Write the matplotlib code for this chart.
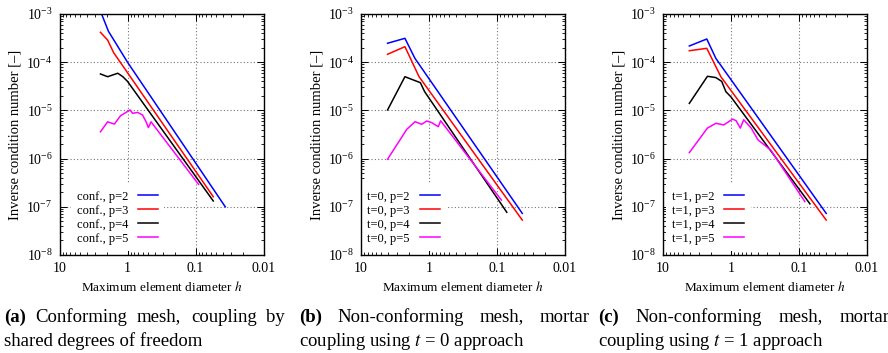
import matplotlib
matplotlib.use('Agg')
import matplotlib.pyplot as plt

plt.rcParams['font.family'] = ['Liberation Serif', 'DejaVu Serif']
plt.rcParams['mathtext.fontset'] = 'stix'

# (a) conforming mesh, shared dofs
conf_h_p2 = [2.5, 1.91, 1.0, 0.0365]
conf_k_p2 = [1.15e-3, 4.4e-4, 1.0e-4, 1.0e-7]
conf_h_p3 = [2.5, 1.96, 1.6, 0.0548]
conf_k_p3 = [4.17e-4, 2.88e-4, 1.58e-4, 1.62e-7]
conf_h_p4 = [2.5, 1.96, 1.39, 1.17, 1.0, 0.0548]
conf_k_p4 = [5.7e-5, 5.0e-5, 5.9e-5, 5.0e-5, 4.0e-5, 1.32e-7]
conf_h_p5 = [2.5, 1.96, 1.56, 1.27, 1.05, 0.92, 0.84, 0.71, 0.6, 0.533, 0.493, 0.451, 0.09]
conf_k_p5 = [3.6e-6, 5.8e-6, 5.2e-6, 7.7e-6, 9.1e-6, 1.02e-5, 8.7e-6, 9.1e-6, 8.0e-6, 5.8e-6, 4.4e-6, 5.8e-6, 2.92e-7]

# (b) mortar coupling, t=0
t0_h_p2 = [4.07, 2.26, 1.61, 0.0425]
t0_k_p2 = [2.47e-4, 3.13e-4, 1.2e-4, 7.3e-8]
t0_h_p3 = [4.07, 2.26, 1.4, 0.0425]
t0_k_p3 = [1.46e-4, 2.1e-4, 5.0e-5, 5.3e-8]
t0_h_p4 = [4.07, 2.26, 1.34, 1.16, 0.0718]
t0_k_p4 = [1.02e-5, 5.0e-5, 3.76e-5, 2.45e-5, 7.7e-8]
t0_h_p5 = [4.07, 2.12, 1.6, 1.28, 1.08, 0.91, 0.73, 0.674, 0.0863]
t0_k_p5 = [9.7e-7, 4.06e-6, 5.83e-6, 5.15e-6, 6.03e-6, 5.56e-6, 4.59e-6, 6.1e-6, 1.38e-7]

# (c) mortar coupling, t=1
t1_h_p2 = [4.1, 2.27, 1.67, 0.0398]
t1_k_p2 = [2.17e-4, 3.03e-4, 1.2e-4, 7.3e-8]
t1_h_p3 = [4.1, 2.27, 1.41, 0.0398]
t1_k_p3 = [1.73e-4, 1.94e-4, 5.0e-5, 5.3e-8]
t1_h_p4 = [4.1, 2.22, 1.67, 1.37, 1.19, 1.0, 0.069]
t1_k_p4 = [1.4e-5, 5.1e-5, 4.8e-5, 4.0e-5, 2.45e-5, 1.9e-5, 1.15e-7]
t1_h_p5 = [4.1, 2.22, 1.67, 1.28, 0.944, 0.84, 0.73, 0.65, 0.505, 0.40, 0.32, 0.26, 0.082]
t1_k_p5 = [1.33e-6, 4.3e-6, 5.4e-6, 5.0e-6, 6.6e-6, 6.1e-6, 4.3e-6, 6.4e-6, 4.3e-6, 2.44e-6, 1.9e-6, 1.5e-6, 1.28e-7]

degrees = [2, 3, 4, 5]
colors = ['#0000ff', '#ff0000', '#000000', '#ff00ff']
xticks = [10, 1, 0.1, 0.01]
xticklabels = ['10', '1', '0.1', '0.01']

panels = [
    ('conf.', [(conf_h_p2, conf_k_p2), (conf_h_p3, conf_k_p3), (conf_h_p4, conf_k_p4), (conf_h_p5, conf_k_p5)]),
    ('t=0', [(t0_h_p2, t0_k_p2), (t0_h_p3, t0_k_p3), (t0_h_p4, t0_k_p4), (t0_h_p5, t0_k_p5)]),
    ('t=1', [(t1_h_p2, t1_k_p2), (t1_h_p3, t1_k_p3), (t1_h_p4, t1_k_p4), (t1_h_p5, t1_k_p5)]),
]

W, H = 888, 353
fig = plt.figure(figsize=(W / 100, H / 100), dpi=100)

ax_left = [59.5, 361, 663]
ax_top, ax_bot, ax_w = 14, 255, 204
legend_x = [0.054, 0.0, 0.013]

for i, (tag, series) in enumerate(panels):
    ax = fig.add_axes([ax_left[i] / W, 1 - ax_bot / H, ax_w / W, (ax_bot - ax_top) / H])
    for (h, k), p, c in zip(series, degrees, colors):
        ax.plot(h, k, color=c, lw=1.1, label=f'{tag}, p={p}')
    ax.set_xscale('log')
    ax.set_yscale('log')
    ax.set_xlim(10, 0.01)
    ax.set_ylim(1e-8, 1e-3)
    ax.set_xticks(xticks)
    ax.set_xticklabels(xticklabels)
    ax.tick_params(which='both', direction='in', top=True, right=True, labelsize=10)
    ax.tick_params(which='major', length=5, width=0.7, pad=5)
    ax.tick_params(which='minor', length=2.5, width=0.6)
    ax.grid(True, which='major', color='0.45', ls=(0, (1, 2)), lw=0.8)
    ax.set_axisbelow(True)
    for s in ax.spines.values():
        s.set_linewidth(1.0)
        s.set_zorder(6)
    ax.set_ylabel('Inverse condition number [–]', fontsize=10.5)
    ax.yaxis.set_label_coords(-0.185, 0.5)
    ax.set_xlabel('Maximum element diameter $h$', fontsize=9.5, va='top')
    ax.xaxis.set_label_coords(0.5, -0.105)
    leg = ax.legend(loc='lower left', bbox_to_anchor=(legend_x[i], 0.017), fontsize=9,
                    markerfirst=False, handlelength=1.6, handletextpad=0.8,
                    labelspacing=0.16, borderpad=0.5, borderaxespad=0,
                    fancybox=False, framealpha=1.0)
    leg.get_frame().set_edgecolor('none')
    leg.get_frame().set_linewidth(0)

# justified two-line captions under each panel
cap_size = 13.5
cap_x = [4, 299, 598]
cap_end = [285, 590, 890]
cap_line1 = [
    [('(a)', 'bold'), ('Conforming', 'normal'), ('mesh,', 'normal'), ('coupling', 'normal'), ('by', 'normal')],
    [('(b)', 'bold'), ('Non-conforming', 'normal'), ('mesh,', 'normal'), ('mortar', 'normal')],
    [('(c)', 'bold'), ('Non-conforming', 'normal'), ('mesh,', 'normal'), ('mortar', 'normal')],
]
cap_line2 = ['shared degrees of freedom', 'coupling using $t$ = 0 approach', 'coupling using $t$ = 1 approach']

renderer = fig.canvas.get_renderer()
y1 = 1 - 317 / H
y2 = 1 - 341 / H
for i in range(3):
    texts = [fig.text(0, y1, w, fontsize=cap_size, fontweight=wt, va='center') for w, wt in cap_line1[i]]
    widths = [t.get_window_extent(renderer).width for t in texts]
    gap = (cap_end[i] - cap_x[i] - sum(widths)) / (len(texts) - 1)
    x = cap_x[i]
    for t, w in zip(texts, widths):
        t.set_x(x / W)
        x += w + gap
    fig.text(cap_x[i] / W, y2, cap_line2[i], fontsize=cap_size, va='center')

fig.savefig('out.png', dpi=100)
